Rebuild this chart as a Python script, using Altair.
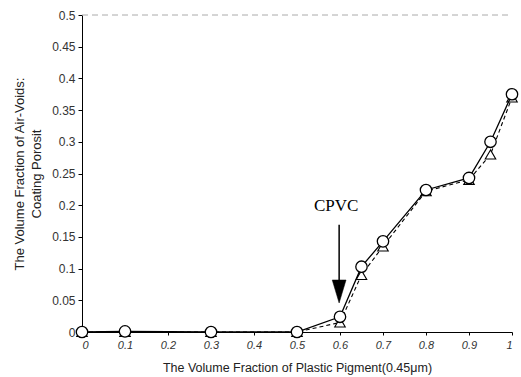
import altair as alt
import pandas as pd

x_vals = [0, 0.1, 0.3, 0.5, 0.6, 0.65, 0.7, 0.8, 0.9, 0.95, 1.0]
circle_vals = [0, 0.001, 0, 0, 0.024, 0.103, 0.143, 0.224, 0.243, 0.30, 0.375]
triangle_vals = [0, 0, 0, 0, 0.015, 0.09, 0.135, 0.222, 0.24, 0.28, 0.37]
x_ticks = [0, 0.1, 0.2, 0.3, 0.4, 0.5, 0.6, 0.7, 0.8, 0.9, 1.0]
y_ticks = [0, 0.05, 0.1, 0.15, 0.2, 0.25, 0.3, 0.35, 0.4, 0.45, 0.5]

df_c = pd.DataFrame({"x": x_vals, "y": circle_vals})
df_t = pd.DataFrame({"x": x_vals, "y": triangle_vals})

xs = alt.Scale(domain=[0, 1], nice=False)
ys = alt.Scale(domain=[0, 0.5], nice=False)

x_axis = alt.Axis(values=x_ticks, format="~f", grid=False, labelFontStyle="italic",
                  title="The  Volume Fraction of Plastic Pigment(0.45\u03bcm)",
                  titleFontWeight="normal", titleFontSize=12.5, titlePadding=11,
                  labelFontSize=11, labelColor="#333", titleColor="#222",
                  domainColor="#000", tickColor="#000", tickSize=3, labelPadding=4,
                  labelOverlap=False)
y_axis = alt.Axis(values=y_ticks, format="~f", grid=False,
                  title=["The Volume Fraction of Air-Voids:", "Coating Porosit"],
                  titleFontWeight="normal", titleFontSize=13, titlePadding=8,
                  titleLineHeight=17,
                  labelFontSize=12, labelColor="#333", titleColor="#222",
                  domainColor="#000", tickColor="#000", tickSize=4, labelPadding=3,
                  labelOverlap=False)


def X(f):
    return alt.X(f, type="quantitative", scale=xs, axis=x_axis)


def Y(f):
    return alt.Y(f, type="quantitative", scale=ys, axis=y_axis)


base_c = alt.Chart(df_c)
base_t = alt.Chart(df_t)

dash_line = base_t.mark_line(color="#000", strokeWidth=1.1, strokeDash=[4, 3]).encode(
    x=X("x"), y=Y("y"))
tri = base_t.mark_point(shape="triangle-up", filled=True, fill="white", stroke="#000",
                        strokeWidth=1.1, size=110, opacity=1).encode(x=X("x"), y=Y("y"))
solid_line = base_c.mark_line(color="#000", strokeWidth=1.3).encode(x=X("x"), y=Y("y"))
circ = base_c.mark_point(shape="circle", filled=True, fill="white", stroke="#000",
                         strokeWidth=1.3, size=130, opacity=1).encode(x=X("x"), y=Y("y"))

ann = pd.DataFrame({"x": [0.598], "y": [0.169], "y2": [0.079], "ty": [0.184],
                    "hy": [0.0639], "label": ["CPVC"]})
arrow_line = alt.Chart(ann).mark_rule(color="#000", strokeWidth=1.5).encode(
    x=X("x"), y=Y("y"), y2="y2:Q")
arrow_head = alt.Chart(ann).mark_point(shape="M-0.6,-1L0.6,-1L0,1Z", filled=True, fill="#000",
                                       stroke="#000", strokeWidth=0.5, size=529, opacity=1).encode(
    x=X("x"), y=Y("hy"))
arrow_text = alt.Chart(ann).mark_text(font="Liberation Serif", fontSize=17, color="#000",
                                      baseline="bottom", dx=-3).encode(
    x=X("x"), y=Y("ty"), text="label:N")

top_rule = alt.Chart(pd.DataFrame({"y": [0.5]})).mark_rule(color="#aaa", strokeWidth=1, strokeDash=[6, 4]).encode(
    y=Y("y"), x=alt.value(0), x2=alt.value(430))

chart = alt.layer(dash_line, top_rule, tri, solid_line, circ, arrow_line, arrow_head, arrow_text).properties(
    width=430, height=317,
    autosize=alt.AutoSizeParams(type="none"),
    padding={"left": 82, "top": 15, "right": 9, "bottom": 45},
).configure_view(stroke=None).configure_axis(labelFont="Liberation Sans", titleFont="Liberation Sans")

chart.save("out.html", embed_options={"renderer": "svg", "actions": False})
